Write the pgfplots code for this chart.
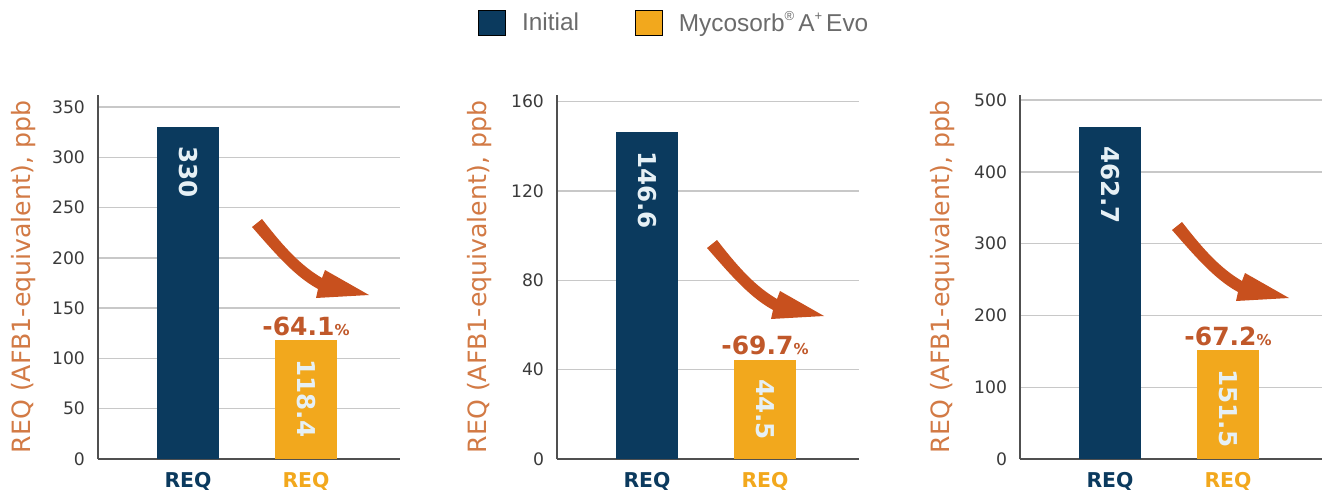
\documentclass[border=0pt]{standalone}
\usepackage{fontspec}
\setmainfont{DejaVu Sans}
\newfontfamily\lib{Liberation Sans}
\usepackage{pgfplots}
\pgfplotsset{compat=1.18}
\definecolor{navy}{HTML}{0B3A5E}
\definecolor{gold}{HTML}{F2A81D}
\definecolor{rust}{HTML}{C8501E}
\definecolor{pct}{HTML}{C0582A}
\definecolor{ylab}{HTML}{D27A45}
\definecolor{tickc}{HTML}{3A3A3A}
\definecolor{gridc}{HTML}{C8C8C8}
\definecolor{axisc}{HTML}{505050}
\definecolor{legc}{HTML}{6B6B6B}
\definecolor{valc}{HTML}{E6F0F5}

\pgfplotsset{
 panel/.style={
   scale only axis, width=151pt, height=182pt,
   xmin=0, xmax=302, ymin=0,
   axis x line*=bottom, axis y line*=left,
   axis line style={axisc, line width=1.4pt, -},
   ymajorgrids, grid style={gridc, line width=0.7pt},
   major tick length=0pt,
   xtick={90,208}, xticklabels={\textcolor{navy}{REQ},\textcolor{gold}{REQ}},
   xticklabel style={font=\fontsize{10.2}{12}\selectfont\bfseries, yshift=-3pt},
   yticklabel style={font=\fontsize{8.6}{10}\selectfont, color=tickc, xshift=-3pt},
   /pgf/number format/assume math mode=true,
   ylabel={REQ (AFB1-equivalent), ppb},
   ylabel style={font=\fontsize{12.6}{14}\selectfont, color=ylab, anchor=center},
   ybar, bar width=31pt, bar shift=0pt,
   legend image code/.code={\fill[##1] (0pt,-6.25pt) rectangle (13.5pt,6.25pt);},
   clip=false,
 },
 vals/.style={fill=#1, draw=none, forget plot, nodes near coords, point meta=explicit symbolic,
   every node near coord/.append style={font=\fontsize{12.3}{14}\selectfont\bfseries, color=valc, inner sep=0pt, yshift=-9.5pt, rotate=-90, anchor=west}},
 pctl/.style={draw=none, fill=none, forget plot,
   nodes near coords={\pgfplotspointmeta{\fontsize{7.5}{9}\selectfont\%}}, point meta=explicit symbolic,
   every node near coord/.append style={font=\fontsize{12.5}{14}\selectfont\bfseries, color=pct, inner sep=0pt, anchor=south, yshift=2pt}},
}
\newcommand\redarrow[2]{%
  \fill[rust, shift={(#1pt,#2pt)}, x=0.5pt, y=-0.5pt]
    (4,-5) .. controls (22,18) and (40,40) .. (64,54) -- (67,46) -- (111,71) -- (58,74) -- (60,65)
    .. controls (36,52) and (16,28) .. (-6,3) -- cycle;}

\begin{document}
\begin{tikzpicture}
\useasboundingbox (0,0) rectangle (662.5pt,-248.5pt);

\begin{axis}[panel, at={(49pt,-229.5pt)}, anchor=south west,
  ymax=362, ytick={0,50,...,350},
  ylabel style={at={(axis description cs:-0.245,0.5)}},
  legend style={at={(1.905,1.198)}, anchor=center, draw=none, fill=none,
    legend columns=2, font=\lib\fontsize{12.2}{14}\selectfont, text=legc,
    nodes={inner xsep=0pt},
    /tikz/every odd column/.append style={column sep=8pt},
    /tikz/every even column/.append style={column sep=28pt}}]
  \addplot[vals=navy] coordinates {(90,330) [330]};
  \addplot[vals=gold] coordinates {(208,118.4) [118.4]};
  \addplot[pctl] coordinates {(208,118.4) [-64.1]};
  \addlegendimage{fill=navy}
  \addlegendentry{Initial}
  \addlegendimage{fill=gold}
  \addlegendentry{Mycosorb\raisebox{0.9ex}{\fontsize{6.5}{7}\selectfont\textregistered}\,A\raisebox{0.9ex}{\fontsize{6.5}{7}\selectfont+}\,Evo}
\end{axis}

\begin{axis}[panel, at={(278.5pt,-229.5pt)}, anchor=south west,
  ymax=163, ytick={0,40,...,160},
  ylabel style={at={(axis description cs:-0.255,0.5)}}]
  \addplot[vals=navy] coordinates {(90,146.6) [146.6]};
  \addplot[vals=gold] coordinates {(208,44.5) [44.5]};
  \addplot[pctl] coordinates {(208,44.5) [-69.7]};
\end{axis}

\begin{axis}[panel, at={(510pt,-229.5pt)}, anchor=south west,
  ymax=507, ytick={0,100,...,500},
  ylabel style={at={(axis description cs:-0.258,0.5)}}]
  \addplot[vals=navy] coordinates {(90,462.7) [462.7]};
  \addplot[vals=gold] coordinates {(208,151.5) [151.5]};
  \addplot[pctl] coordinates {(208,151.5) [-67.2]};
\end{axis}

\redarrow{129}{-112}
\redarrow{356.5}{-122.5}
\redarrow{589}{-113.5}
\end{tikzpicture}
\end{document}
